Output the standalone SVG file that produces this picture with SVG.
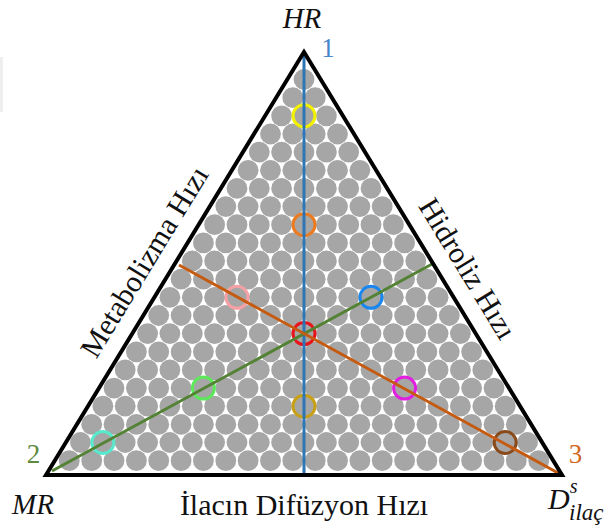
<svg xmlns="http://www.w3.org/2000/svg" width="606" height="528" viewBox="0 0 606 528">
<style>
.dots circle{fill:#a6a6a6}
.ring{fill:none;stroke-width:3}
.lbl{font-family:"Liberation Serif","Times New Roman",serif;fill:#111}
.it{font-style:italic}
.ax{fill:none;stroke-width:3;stroke-linecap:butt}
</style>
<rect width="606" height="528" fill="#fff"/>
<rect x="0" y="57" width="3" height="55" fill="#eeeeee"/>
<g id="grid" class="dots">
<g transform="translate(0,79.5)"><circle cx="304" r="10.4"/></g>
<g transform="translate(0,97.7)"><circle cx="292.8" r="10.4"/><circle cx="315.2" r="10.4"/></g>
<g transform="translate(0,115.8)"><circle cx="281.6" r="10.4"/><circle cx="304" r="10.4"/><circle cx="326.4" r="10.4"/></g>
<g transform="translate(0,134)"><circle cx="270.5" r="10.4"/><circle cx="292.8" r="10.4"/><circle cx="315.2" r="10.4"/><circle cx="337.5" r="10.4"/></g>
<g transform="translate(0,152.1)"><circle cx="259.3" r="10.4"/><circle cx="281.6" r="10.4"/><circle cx="304" r="10.4"/><circle cx="326.4" r="10.4"/><circle cx="348.7" r="10.4"/></g>
<g transform="translate(0,170.3)"><circle cx="248.1" r="10.4"/><circle cx="270.5" r="10.4"/><circle cx="292.8" r="10.4"/><circle cx="315.2" r="10.4"/><circle cx="337.5" r="10.4"/><circle cx="359.9" r="10.4"/></g>
<g transform="translate(0,188.4)"><circle cx="237" r="10.4"/><circle cx="259.3" r="10.4"/><circle cx="281.6" r="10.4"/><circle cx="304" r="10.4"/><circle cx="326.4" r="10.4"/><circle cx="348.7" r="10.4"/><circle cx="371" r="10.4"/></g>
<g transform="translate(0,206.6)"><circle cx="225.8" r="10.4"/><circle cx="248.1" r="10.4"/><circle cx="270.5" r="10.4"/><circle cx="292.8" r="10.4"/><circle cx="315.2" r="10.4"/><circle cx="337.5" r="10.4"/><circle cx="359.9" r="10.4"/><circle cx="382.2" r="10.4"/></g>
<g transform="translate(0,224.7)"><circle cx="214.6" r="10.4"/><circle cx="237" r="10.4"/><circle cx="259.3" r="10.4"/><circle cx="281.6" r="10.4"/><circle cx="304" r="10.4"/><circle cx="326.4" r="10.4"/><circle cx="348.7" r="10.4"/><circle cx="371" r="10.4"/><circle cx="393.4" r="10.4"/></g>
<g transform="translate(0,242.9)"><circle cx="203.4" r="10.4"/><circle cx="225.8" r="10.4"/><circle cx="248.1" r="10.4"/><circle cx="270.5" r="10.4"/><circle cx="292.8" r="10.4"/><circle cx="315.2" r="10.4"/><circle cx="337.5" r="10.4"/><circle cx="359.9" r="10.4"/><circle cx="382.2" r="10.4"/><circle cx="404.6" r="10.4"/></g>
<g transform="translate(0,261)"><circle cx="192.3" r="10.4"/><circle cx="214.6" r="10.4"/><circle cx="237" r="10.4"/><circle cx="259.3" r="10.4"/><circle cx="281.6" r="10.4"/><circle cx="304" r="10.4"/><circle cx="326.4" r="10.4"/><circle cx="348.7" r="10.4"/><circle cx="371" r="10.4"/><circle cx="393.4" r="10.4"/><circle cx="415.8" r="10.4"/></g>
<g transform="translate(0,279.2)"><circle cx="181.1" r="10.4"/><circle cx="203.4" r="10.4"/><circle cx="225.8" r="10.4"/><circle cx="248.1" r="10.4"/><circle cx="270.5" r="10.4"/><circle cx="292.8" r="10.4"/><circle cx="315.2" r="10.4"/><circle cx="337.5" r="10.4"/><circle cx="359.9" r="10.4"/><circle cx="382.2" r="10.4"/><circle cx="404.6" r="10.4"/><circle cx="426.9" r="10.4"/></g>
<g transform="translate(0,297.3)"><circle cx="169.9" r="10.4"/><circle cx="192.3" r="10.4"/><circle cx="214.6" r="10.4"/><circle cx="237" r="10.4"/><circle cx="259.3" r="10.4"/><circle cx="281.6" r="10.4"/><circle cx="304" r="10.4"/><circle cx="326.4" r="10.4"/><circle cx="348.7" r="10.4"/><circle cx="371" r="10.4"/><circle cx="393.4" r="10.4"/><circle cx="415.8" r="10.4"/><circle cx="438.1" r="10.4"/></g>
<g transform="translate(0,315.5)"><circle cx="158.7" r="10.4"/><circle cx="181.1" r="10.4"/><circle cx="203.4" r="10.4"/><circle cx="225.8" r="10.4"/><circle cx="248.1" r="10.4"/><circle cx="270.5" r="10.4"/><circle cx="292.8" r="10.4"/><circle cx="315.2" r="10.4"/><circle cx="337.5" r="10.4"/><circle cx="359.9" r="10.4"/><circle cx="382.2" r="10.4"/><circle cx="404.6" r="10.4"/><circle cx="426.9" r="10.4"/><circle cx="449.3" r="10.4"/></g>
<g transform="translate(0,333.6)"><circle cx="147.6" r="10.4"/><circle cx="169.9" r="10.4"/><circle cx="192.3" r="10.4"/><circle cx="214.6" r="10.4"/><circle cx="237" r="10.4"/><circle cx="259.3" r="10.4"/><circle cx="281.6" r="10.4"/><circle cx="304" r="10.4"/><circle cx="326.4" r="10.4"/><circle cx="348.7" r="10.4"/><circle cx="371" r="10.4"/><circle cx="393.4" r="10.4"/><circle cx="415.8" r="10.4"/><circle cx="438.1" r="10.4"/><circle cx="460.4" r="10.4"/></g>
<g transform="translate(0,351.8)"><circle cx="136.4" r="10.4"/><circle cx="158.7" r="10.4"/><circle cx="181.1" r="10.4"/><circle cx="203.4" r="10.4"/><circle cx="225.8" r="10.4"/><circle cx="248.1" r="10.4"/><circle cx="270.5" r="10.4"/><circle cx="292.8" r="10.4"/><circle cx="315.2" r="10.4"/><circle cx="337.5" r="10.4"/><circle cx="359.9" r="10.4"/><circle cx="382.2" r="10.4"/><circle cx="404.6" r="10.4"/><circle cx="426.9" r="10.4"/><circle cx="449.3" r="10.4"/><circle cx="471.6" r="10.4"/></g>
<g transform="translate(0,369.9)"><circle cx="125.2" r="10.4"/><circle cx="147.6" r="10.4"/><circle cx="169.9" r="10.4"/><circle cx="192.3" r="10.4"/><circle cx="214.6" r="10.4"/><circle cx="237" r="10.4"/><circle cx="259.3" r="10.4"/><circle cx="281.6" r="10.4"/><circle cx="304" r="10.4"/><circle cx="326.4" r="10.4"/><circle cx="348.7" r="10.4"/><circle cx="371" r="10.4"/><circle cx="393.4" r="10.4"/><circle cx="415.8" r="10.4"/><circle cx="438.1" r="10.4"/><circle cx="460.4" r="10.4"/><circle cx="482.8" r="10.4"/></g>
<g transform="translate(0,388.1)"><circle cx="114" r="10.4"/><circle cx="136.4" r="10.4"/><circle cx="158.7" r="10.4"/><circle cx="181.1" r="10.4"/><circle cx="203.4" r="10.4"/><circle cx="225.8" r="10.4"/><circle cx="248.1" r="10.4"/><circle cx="270.5" r="10.4"/><circle cx="292.8" r="10.4"/><circle cx="315.2" r="10.4"/><circle cx="337.5" r="10.4"/><circle cx="359.9" r="10.4"/><circle cx="382.2" r="10.4"/><circle cx="404.6" r="10.4"/><circle cx="426.9" r="10.4"/><circle cx="449.3" r="10.4"/><circle cx="471.6" r="10.4"/><circle cx="494" r="10.4"/></g>
<g transform="translate(0,406.2)"><circle cx="102.9" r="10.4"/><circle cx="125.2" r="10.4"/><circle cx="147.6" r="10.4"/><circle cx="169.9" r="10.4"/><circle cx="192.3" r="10.4"/><circle cx="214.6" r="10.4"/><circle cx="237" r="10.4"/><circle cx="259.3" r="10.4"/><circle cx="281.6" r="10.4"/><circle cx="304" r="10.4"/><circle cx="326.4" r="10.4"/><circle cx="348.7" r="10.4"/><circle cx="371" r="10.4"/><circle cx="393.4" r="10.4"/><circle cx="415.8" r="10.4"/><circle cx="438.1" r="10.4"/><circle cx="460.4" r="10.4"/><circle cx="482.8" r="10.4"/><circle cx="505.2" r="10.4"/></g>
<g transform="translate(0,424.4)"><circle cx="91.7" r="10.4"/><circle cx="114" r="10.4"/><circle cx="136.4" r="10.4"/><circle cx="158.7" r="10.4"/><circle cx="181.1" r="10.4"/><circle cx="203.4" r="10.4"/><circle cx="225.8" r="10.4"/><circle cx="248.1" r="10.4"/><circle cx="270.5" r="10.4"/><circle cx="292.8" r="10.4"/><circle cx="315.2" r="10.4"/><circle cx="337.5" r="10.4"/><circle cx="359.9" r="10.4"/><circle cx="382.2" r="10.4"/><circle cx="404.6" r="10.4"/><circle cx="426.9" r="10.4"/><circle cx="449.3" r="10.4"/><circle cx="471.6" r="10.4"/><circle cx="494" r="10.4"/><circle cx="516.3" r="10.4"/></g>
<g transform="translate(0,442.5)"><circle cx="80.5" r="10.4"/><circle cx="102.9" r="10.4"/><circle cx="125.2" r="10.4"/><circle cx="147.6" r="10.4"/><circle cx="169.9" r="10.4"/><circle cx="192.3" r="10.4"/><circle cx="214.6" r="10.4"/><circle cx="237" r="10.4"/><circle cx="259.3" r="10.4"/><circle cx="281.6" r="10.4"/><circle cx="304" r="10.4"/><circle cx="326.4" r="10.4"/><circle cx="348.7" r="10.4"/><circle cx="371" r="10.4"/><circle cx="393.4" r="10.4"/><circle cx="415.8" r="10.4"/><circle cx="438.1" r="10.4"/><circle cx="460.4" r="10.4"/><circle cx="482.8" r="10.4"/><circle cx="505.2" r="10.4"/><circle cx="527.5" r="10.4"/></g>
<g transform="translate(0,460.7)"><circle cx="69.3" r="10.4"/><circle cx="91.7" r="10.4"/><circle cx="114" r="10.4"/><circle cx="136.4" r="10.4"/><circle cx="158.7" r="10.4"/><circle cx="181.1" r="10.4"/><circle cx="203.4" r="10.4"/><circle cx="225.8" r="10.4"/><circle cx="248.1" r="10.4"/><circle cx="270.5" r="10.4"/><circle cx="292.8" r="10.4"/><circle cx="315.2" r="10.4"/><circle cx="337.5" r="10.4"/><circle cx="359.9" r="10.4"/><circle cx="382.2" r="10.4"/><circle cx="404.6" r="10.4"/><circle cx="426.9" r="10.4"/><circle cx="449.3" r="10.4"/><circle cx="471.6" r="10.4"/><circle cx="494" r="10.4"/><circle cx="516.3" r="10.4"/><circle cx="538.7" r="10.4"/></g>
</g>
<g id="markers">
<circle id="m-yellow" class="ring" cx="304" cy="115.8" r="11" stroke="#f2f200"/>
<circle id="m-orange" class="ring" cx="304" cy="224.7" r="11" stroke="#ec7a1e"/>
<circle id="m-pink" class="ring" cx="237" cy="297.3" r="11" stroke="#f4a0a4"/>
<circle id="m-blue" class="ring" cx="371" cy="297.3" r="11" stroke="#1a86f0"/>
<circle id="m-red" class="ring" cx="304" cy="333.6" r="11" stroke="#e8141c"/>
<circle id="m-green" class="ring" cx="203.4" cy="388.1" r="11" stroke="#5ce85a"/>
<circle id="m-magenta" class="ring" cx="404.6" cy="388.1" r="11" stroke="#e21ee0"/>
<circle id="m-gold" class="ring" cx="304" cy="406.2" r="11" stroke="#c9a014"/>
<circle id="m-cyan" class="ring" cx="102.9" cy="442.5" r="11" stroke="#58e8cc"/>
<circle id="m-brown" class="ring" cx="505.2" cy="442.5" r="11" stroke="#8a4a1a"/>
</g>
<g id="connectors">
<line class="ax" x1="304" y1="52" x2="304" y2="475" stroke="#2e75b6"/>
<line class="ax" x1="52" y1="471" x2="433" y2="263.5" stroke="#548235"/>
<line class="ax" x1="179" y1="265" x2="559" y2="473.5" stroke="#c55a11"/>
</g>
<g id="triangle">
<polygon points="304,52 46,475 562,475" fill="none" stroke="#000" stroke-width="4" stroke-linejoin="miter"/>
</g>
<g id="labels" class="lbl">
<text class="it" x="302" y="28" font-size="29" text-anchor="middle">HR</text>
<text x="328" y="57" font-size="27" text-anchor="middle" fill="#4a86c8">1</text>
<text x="33.5" y="463" font-size="27" text-anchor="middle" fill="#5e8a3e">2</text>
<text x="575.5" y="463" font-size="27" text-anchor="middle" fill="#d2691e">3</text>
<text class="it" x="12" y="514" font-size="29">MR</text>
<text x="304" y="515" font-size="30" text-anchor="middle">İlacın Difüzyon Hızı</text>
<text class="it" x="548" y="509" font-size="30">D<tspan font-size="20" dy="-16">s</tspan><tspan font-size="23" x="569" dy="27">ilaç</tspan></text>
<text x="152.9" y="267" font-size="30" text-anchor="middle" transform="rotate(-58.6 152.9 267)">Metabolizma Hızı</text>
<text x="459.2" y="273.8" font-size="30" text-anchor="middle" transform="rotate(58.6 459.2 273.8)">Hidroliz Hızı</text>
</g>
</svg>
